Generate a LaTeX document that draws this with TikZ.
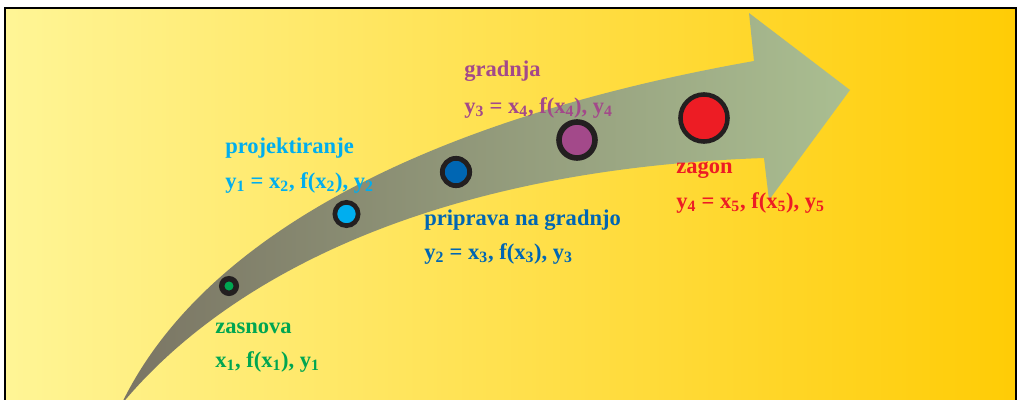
\documentclass[tikz,border=0pt]{standalone}
\usepackage{fontspec}
\setmainfont{Liberation Serif}
\usepackage{tikz}
\usetikzlibrary{positioning}

\definecolor{ringc}{RGB}{35,31,32}
\definecolor{bgL}{RGB}{255,245,150}
\definecolor{bgR}{RGB}{255,204,5}
\definecolor{arL}{RGB}{122,117,100}
\definecolor{arR}{RGB}{170,190,145}
\definecolor{cGreen}{RGB}{0,166,81}
\definecolor{cCyan}{RGB}{0,174,239}
\definecolor{cBlue}{RGB}{0,102,179}
\definecolor{cPurple}{RGB}{163,73,138}
\definecolor{cRed}{RGB}{237,28,36}

\newcommand\lo[1]{\textsubscript{#1}}

\begin{document}
\begin{tikzpicture}[x=0.75pt, y=-0.75pt,
  lab/.style={font=\fontsize{16.9}{20}\selectfont\bfseries, anchor=base west, inner sep=0pt},
  dot/.style={circle, draw=ringc, inner sep=0pt}
]
\useasboundingbox (0,0) rectangle (1018,400);
\clip (0,0) rectangle (1018,400);

% background panel
\shade[left color=bgL, right color=bgR] (5,8) rectangle (1016,410);
\draw[line width=0.8pt] (5,410) -- (5,8) -- (1016,8) -- (1016,410);

% curved arrow
\shade[left color=arL, right color=arR]
  (121,405) .. controls (200,240) and (420,120) .. (754,61)
  -- (749,13) -- (850,90) -- (769,200) -- (764,158)
  .. controls (420,170) and (220,285) .. (121,405) -- cycle;

% stages
\foreach \nm/\px/\py/\col/\lw/\sz in {
    zasnova/229/286/cGreen/4.1/10.9,
    projektiranje/346.5/214/cCyan/3.5/17.5,
    priprava/456/172/cBlue/3.6/20.5,
    gradnja/577/140/cPurple/4.2/27,
    zagon/704/118/cRed/3.4/35.3}
  \node[dot, fill=\col, line width=\lw pt, minimum size=\sz pt] (\nm) at (\px,\py) {};

% labels
\node[lab, text=cGreen] (zasnova-t) at (215,333) {zasnova};
\node[lab, text=cGreen] (zasnova-f) at (215,367) {x\lo{1}, f(x\lo{1}), y\lo{1}};
\node[lab, text=cCyan] (projektiranje-t) at (225,153) {projektiranje};
\node[lab, text=cCyan] (projektiranje-f) at (225,188) {y\lo{1} = x\lo{2}, f(x\lo{2}), y\lo{2}};
\node[lab, text=cBlue] (priprava-t) at (424,225) {priprava na gradnjo};
\node[lab, text=cBlue] (priprava-f) at (424,259) {y\lo{2} = x\lo{3}, f(x\lo{3}), y\lo{3}};
\node[lab, text=cPurple] (gradnja-t) at (464,76) {gradnja};
\node[lab, text=cPurple] (gradnja-f) at (464,113) {y\lo{3} = x\lo{4}, f(x\lo{4}), y\lo{4}};
\node[lab, text=cRed] (zagon-t) at (676,173) {zagon};
\node[lab, text=cRed] (zagon-f) at (676,208) {y\lo{4} = x\lo{5}, f(x\lo{5}), y\lo{5}};
\end{tikzpicture}
\end{document}
